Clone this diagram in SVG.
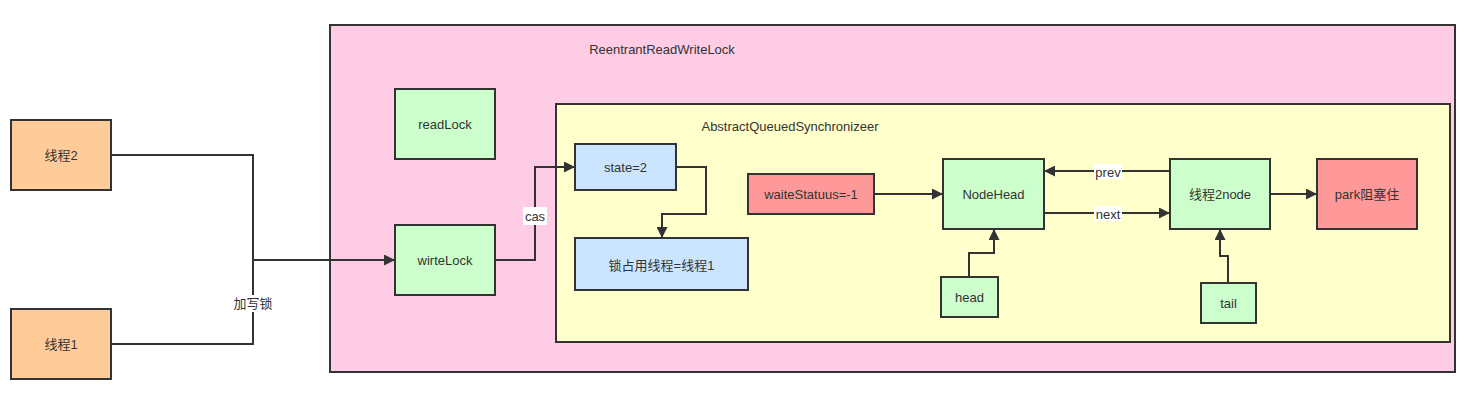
<svg xmlns="http://www.w3.org/2000/svg" width="1475" height="411" viewBox="0 0 1475 411">
<defs>
<marker id="ah" viewBox="0 0 10 10" refX="10" refY="5" markerWidth="12" markerHeight="11" markerUnits="userSpaceOnUse" orient="auto">
<path d="M0,0 L10,5 L0,10 z" fill="#333"/>
</marker>
<style>
.n{stroke:#333;stroke-width:2}
.or{fill:#FFCC99}.gr{fill:#CCFFCC}.bl{fill:#CCE5FF}.rd{fill:#FF9999}.pk{fill:#FFCCE6}.yl{fill:#FFFFCC}
text{font-family:"Liberation Sans","Noto Sans CJK SC",sans-serif;font-size:13px;fill:#333;text-anchor:middle;dominant-baseline:central}
.c{fill:none;stroke:#333;stroke-width:2}
.lb{fill:#fff}
</style>
</defs>
<rect width="1475" height="411" fill="#fff"/>
<g id="rrwl"><rect class="n pk" x="330" y="25" width="1125" height="347"/><text x="662" y="49">ReentrantReadWriteLock</text></g>
<g id="aqs"><rect class="n yl" x="556" y="104" width="894" height="238"/><text x="790" y="126">AbstractQueuedSynchronizeer</text></g>
<g id="t2"><rect class="n or" x="11" y="120" width="100" height="70"/><text x="61" y="155">线程2</text></g>
<g id="t1"><rect class="n or" x="11" y="309" width="100" height="70"/><text x="61" y="344">线程1</text></g>
<g id="readLock"><rect class="n gr" x="395" y="89" width="100" height="70"/><text x="445" y="124">readLock</text></g>
<g id="wirteLock"><rect class="n gr" x="395" y="225" width="100" height="70"/><text x="445" y="260">wirteLock</text></g>
<g id="state"><rect class="n bl" x="575" y="144" width="101" height="46"/><text x="625.5" y="167">state=2</text></g>
<g id="owner"><rect class="n bl" x="575" y="238" width="173" height="52"/><text x="661.5" y="265">锁占用线程=线程1</text></g>
<g id="ws"><rect class="n rd" x="748" y="174" width="126" height="40"/><text x="811" y="194">waiteStatuus=-1</text></g>
<g id="nodeHead"><rect class="n gr" x="943" y="159" width="101" height="70"/><text x="993.5" y="194">NodeHead</text></g>
<g id="head"><rect class="n gr" x="941" y="277" width="57" height="40"/><text x="969.5" y="297">head</text></g>
<g id="t2node"><rect class="n gr" x="1170" y="159" width="100" height="70"/><text x="1220" y="194">线程2node</text></g>
<g id="park"><rect class="n rd" x="1317" y="159" width="100" height="70"/><text x="1367" y="194">park阻塞住</text></g>
<g id="tail"><rect class="n gr" x="1201" y="283" width="55" height="40"/><text x="1228.5" y="303">tail</text></g>
<g id="connectors">
<path class="c" d="M111,155 H253 V344 H111"/>
<path class="c" d="M253,260 H395" marker-end="url(#ah)"/>
<rect class="lb" x="231" y="295" width="44" height="17"/><text x="253" y="303">加写锁</text>
<path class="c" d="M495,260 H535 V167 H575" marker-end="url(#ah)"/>
<rect class="lb" x="523" y="207" width="24" height="18"/><text x="535" y="216">cas</text>
<path class="c" d="M676,167 H706 V214 H662 V238" marker-end="url(#ah)"/>
<path class="c" d="M874,194 H943" marker-end="url(#ah)"/>
<path class="c" d="M969,277 V253 H994 V229" marker-end="url(#ah)"/>
<path class="c" d="M1170,171 H1044" marker-end="url(#ah)"/>
<rect class="lb" x="1094" y="164" width="28" height="15"/><text x="1108" y="172">prev</text>
<path class="c" d="M1044,213 H1170" marker-end="url(#ah)"/>
<rect class="lb" x="1094" y="206" width="28" height="15"/><text x="1108" y="214">next</text>
<path class="c" d="M1270,194 H1317" marker-end="url(#ah)"/>
<path class="c" d="M1228,283 V256 H1220 V229" marker-end="url(#ah)"/>
</g>
</svg>
